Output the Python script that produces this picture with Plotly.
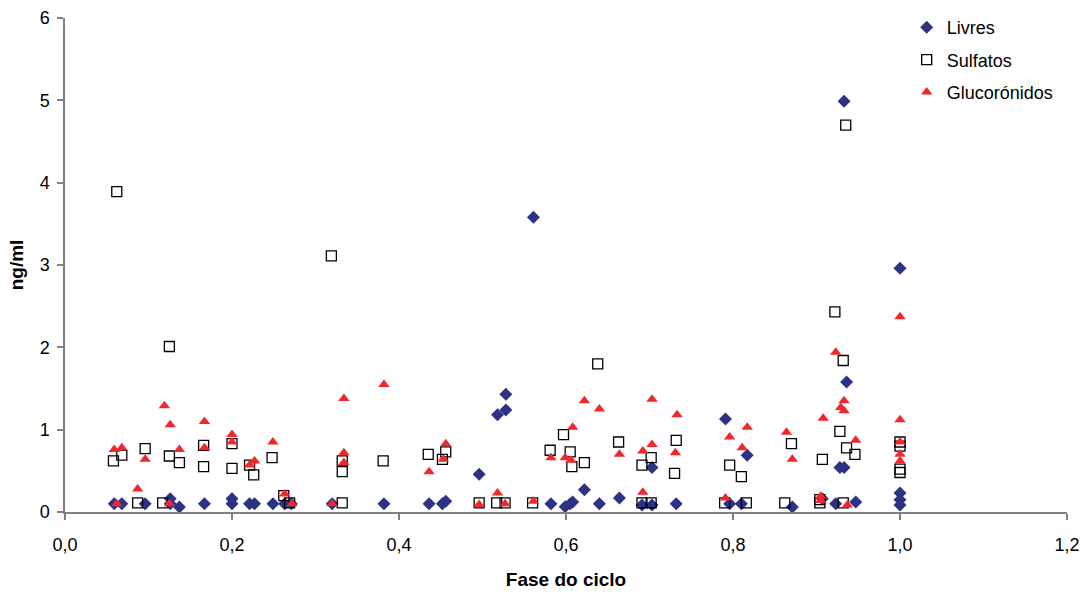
import plotly.graph_objects as go

# Livres (diamonds)
livres_x = [0.059, 0.068, 0.096, 0.126, 0.126, 0.137, 0.167, 0.200, 0.200, 0.221, 0.227, 0.249, 0.263,
            0.271, 0.320, 0.382, 0.436, 0.452, 0.456, 0.496, 0.518, 0.528, 0.528, 0.561,
            0.582, 0.599, 0.605, 0.608, 0.622, 0.640, 0.664, 0.691, 0.703, 0.703,
            0.732, 0.791, 0.796, 0.810, 0.817, 0.871, 0.907, 0.923, 0.928, 0.933, 0.933, 0.936, 0.947,
            1.0, 1.0, 1.0, 1.0]
livres_y = [0.10, 0.10, 0.10, 0.16, 0.10, 0.06, 0.10, 0.16, 0.10, 0.10, 0.10, 0.10, 0.10,
            0.10, 0.10, 0.10, 0.10, 0.10, 0.13, 0.46, 1.18, 1.24, 1.43, 3.58,
            0.10, 0.065, 0.10, 0.12, 0.27, 0.10, 0.17, 0.085, 0.085, 0.54,
            0.10, 1.13, 0.10, 0.10, 0.69, 0.06, 0.16, 0.10, 0.54, 0.54, 4.99, 1.58, 0.12,
            2.96, 0.23, 0.15, 0.085]

# Sulfatos (open squares)
sulf_x = [0.058, 0.062, 0.068, 0.087, 0.096, 0.117, 0.125, 0.125, 0.137, 0.166, 0.166, 0.200, 0.200,
          0.221, 0.226, 0.248, 0.262, 0.269, 0.319, 0.332, 0.332, 0.332, 0.381, 0.435, 0.452, 0.456,
          0.496, 0.517, 0.527, 0.560, 0.581, 0.597, 0.605, 0.607, 0.622, 0.638, 0.663, 0.691, 0.691,
          0.702, 0.702, 0.730, 0.732, 0.790, 0.796, 0.810, 0.816, 0.862, 0.870, 0.904, 0.904, 0.907,
          0.922, 0.928, 0.932, 0.932, 0.935, 0.936, 0.946, 1.0, 1.0, 1.0, 1.0]
sulf_y = [0.62, 3.89, 0.69, 0.11, 0.77, 0.11, 2.01, 0.68, 0.60, 0.81, 0.55, 0.83, 0.53,
          0.57, 0.45, 0.66, 0.20, 0.11, 3.11, 0.62, 0.49, 0.11, 0.62, 0.70, 0.64, 0.73,
          0.11, 0.11, 0.11, 0.11, 0.75, 0.94, 0.73, 0.55, 0.60, 1.80, 0.85, 0.57, 0.11,
          0.66, 0.11, 0.47, 0.87, 0.11, 0.57, 0.43, 0.11, 0.11, 0.83, 0.15, 0.11, 0.64,
          2.43, 0.98, 1.84, 0.11, 4.70, 0.78, 0.70, 0.85, 0.80, 0.52, 0.48]

# Glucorónidos (triangles)
gluc_x = [0.059, 0.062, 0.068, 0.087, 0.096, 0.119, 0.125, 0.126, 0.137, 0.167, 0.167, 0.200, 0.200,
          0.221, 0.227, 0.249, 0.263, 0.272, 0.320, 0.334, 0.334, 0.334, 0.382, 0.436, 0.453, 0.456,
          0.496, 0.518, 0.527, 0.561, 0.582, 0.599, 0.606, 0.608, 0.622, 0.640, 0.664, 0.692, 0.692,
          0.703, 0.703, 0.731, 0.733, 0.791, 0.796, 0.811, 0.817, 0.864, 0.871, 0.905, 0.905, 0.908,
          0.923, 0.929, 0.933, 0.933, 0.937, 0.947, 1.0, 1.0, 1.0, 1.0, 1.0]
gluc_y = [0.76, 0.10, 0.78, 0.28, 0.64, 1.29, 0.10, 1.06, 0.76, 1.10, 0.78, 0.94, 0.85,
          0.57, 0.62, 0.85, 0.22, 0.10, 0.10, 1.38, 0.72, 0.60, 1.55, 0.49, 0.64, 0.83,
          0.09, 0.23, 0.10, 0.13, 0.66, 0.66, 0.63, 1.03, 1.35, 1.25, 0.70, 0.24, 0.74,
          1.37, 0.82, 0.72, 1.18, 0.17, 0.91, 0.78, 1.03, 0.97, 0.64, 0.19, 0.14, 1.14,
          1.94, 1.27, 1.35, 1.23, 0.085, 0.87, 2.37, 1.12, 0.85, 0.70, 0.62]

x_ticks = [0, 0.2, 0.4, 0.6, 0.8, 1.0, 1.2]
x_tick_labels = ["0,0", "0,2", "0,4", "0,6", "0,8", "1,0", "1,2"]
y_ticks = [0, 1, 2, 3, 4, 5, 6]

FONT = "Liberation Sans, Arial, sans-serif"

fig = go.Figure()
fig.add_trace(go.Scatter(x=livres_x, y=livres_y, mode="markers", name="Livres", legendgroup="a",
                         marker=dict(symbol="diamond", size=10, color="#2E3284",
                                     line=dict(width=0))))
fig.add_trace(go.Scatter(x=sulf_x, y=sulf_y, mode="markers", name="Sulfatos", legendgroup="b",
                         marker=dict(symbol="square-open", size=10, color="#000000",
                                     line=dict(width=1.3, color="#000000"))))
fig.add_trace(go.Scatter(x=gluc_x, y=gluc_y, mode="markers", name="Glucorónidos", legendgroup="c",
                         marker=dict(symbol="triangle-up", size=10, color="#F0282D",
                                     line=dict(width=0))))

axis_common = dict(showgrid=False, zeroline=False, showline=True, linecolor="#808080", linewidth=1.5,
                   ticks="outside", ticklen=6, tickcolor="#808080", tickwidth=1.5, automargin=False,
                   tickfont=dict(family=FONT, size=18, color="#000000"))

fig.update_layout(
    width=1084, height=592,
    paper_bgcolor="white", plot_bgcolor="white",
    margin=dict(l=65, r=17, t=18, b=80, autoexpand=False),
    font=dict(family=FONT, size=18, color="#000000"),
    xaxis=dict(range=[0, 1.2], tickvals=x_ticks, ticktext=x_tick_labels, ticklabelstandoff=10,
               title=dict(text="<b>Fase do ciclo</b>", font=dict(family=FONT, size=19), standoff=18),
               **axis_common),
    yaxis=dict(range=[0, 6], tickvals=y_ticks, ticklabelstandoff=4,
               title=dict(text="<b>ng/ml</b>", font=dict(family=FONT, size=19), standoff=11),
               **axis_common),
    legend=dict(x=0.840, y=1.018, xanchor="left", yanchor="top", traceorder="grouped",
                tracegroupgap=6, bgcolor="rgba(0,0,0,0)", font=dict(family=FONT, size=18),
                itemwidth=30),
    showlegend=True,
)

fig.write_html("out.html")
